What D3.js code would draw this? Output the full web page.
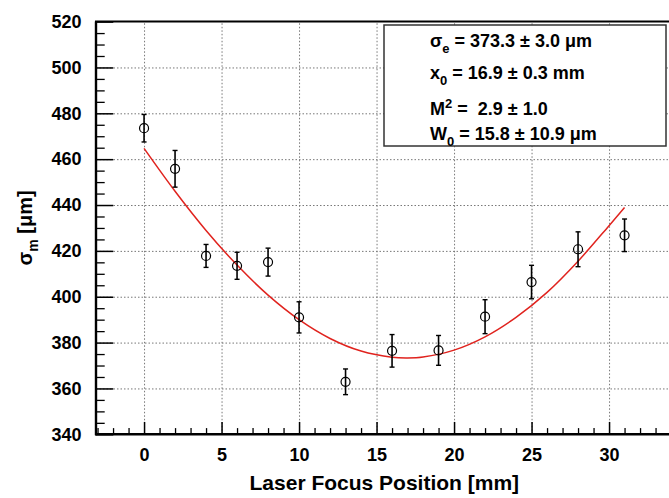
<!DOCTYPE html>
<html>
<head>
<meta charset="utf-8">
<script src="https://cdn.jsdelivr.net/npm/d3@7"></script>
<style>
  html, body { margin: 0; padding: 0; background: #fff; }
  svg { display: block; }
  text { font-family: "Liberation Sans", Arial, Helvetica, sans-serif; font-weight: bold; fill: #000; white-space: pre; }
</style>
</head>
<body>
<svg id="chart" width="669" height="498"></svg>
<script>
// ---- data ----
const focusPos = [0, 2, 4, 6, 8, 10, 13, 16, 19, 22, 25, 28, 31];
const sigmaM   = [473.5, 455.8, 417.8, 413.5, 415.1, 391.0, 362.9, 376.4, 376.6, 391.3, 406.4, 420.7, 426.8];
const sigmaErr = [6.0, 8.0, 5.0, 5.9, 6.1, 6.8, 5.6, 7.1, 6.5, 7.4, 7.3, 7.6, 7.1];

// fit curve
const fitX = [0, 2, 4, 6, 8, 10, 12, 14, 16, 17, 18, 20, 22, 24, 26, 28, 30, 31];
const fitY = [464.7, 446.0, 428.9, 413.8, 400.7, 390.0, 381.8, 376.3, 373.6, 373.3, 373.7, 376.7, 382.5, 391.0, 401.9, 415.5, 431.0, 438.9];

const xTicks = [0, 5, 10, 15, 20, 25, 30];
const yTicks = [340, 360, 380, 400, 420, 440, 460, 480, 500, 520];
const xDomain = [-3.1, 34.1];
const yDomain = [340, 520];

const legendLines = [
  { main: "σ", sub: "e", rest: " = 373.3 ± 3.0 μm" },
  { main: "x", sub: "0", rest: " = 16.9 ± 0.3 mm" },
  { main: "M", sup: "2", rest: " =  2.9 ± 1.0" },
  { main: "W", sub: "0", rest: " = 15.8 ± 10.9 μm" }
];

// ---- layout ----
const L = 96, R = 672.6, T = 21.6, B = 434.3;
const svg = d3.select("#chart");
const x = d3.scaleLinear().domain(xDomain).range([L, R]);
const y = d3.scaleLinear().domain(yDomain).range([B, T]);

const xMinor = d3.range(-3, 35, 1).filter(v => v % 5 !== 0);
const yMinor = d3.range(340, 521, 5).filter(v => v % 20 !== 0);

// grid
const gridX = svg.append("g").attr("transform", `translate(0,${B})`)
  .call(d3.axisBottom(x).tickValues(xTicks).tickSize(-(B - T)).tickFormat(""));
const gridY = svg.append("g").attr("transform", `translate(${L},0)`)
  .call(d3.axisLeft(y).tickValues(yTicks.slice(1, -1)).tickSize(-(R - L)).tickFormat(""));
[gridX, gridY].forEach(g => {
  g.select(".domain").remove();
  g.selectAll("line").attr("stroke", "#777").attr("stroke-width", 1).attr("stroke-dasharray", "1.5,2");
});

// minor ticks
const xm = svg.append("g").attr("transform", `translate(0,${B})`)
  .call(d3.axisBottom(x).tickValues(xMinor).tickSize(-6.2).tickFormat(""));
const ym = svg.append("g").attr("transform", `translate(${L},0)`)
  .call(d3.axisLeft(y).tickValues(yMinor).tickSize(-8.7).tickFormat(""));
[xm, ym].forEach(g => {
  g.select(".domain").remove();
  g.selectAll("line").attr("stroke", "#000").attr("stroke-width", 1.3);
});

// major axes
const xAxis = svg.append("g").attr("transform", `translate(0,${B})`)
  .call(d3.axisBottom(x).tickValues(xTicks).tickSizeInner(-12.4).tickSizeOuter(0).tickPadding(14));
const yAxis = svg.append("g").attr("transform", `translate(${L},0)`)
  .call(d3.axisLeft(y).tickValues(yTicks).tickSizeInner(-17.3).tickSizeOuter(0).tickPadding(14));
[xAxis, yAxis].forEach(g => {
  g.select(".domain").remove();
  g.selectAll("line").attr("stroke", "#000").attr("stroke-width", 1.5);
  g.selectAll("text").attr("font-size", 18).attr("font-weight", "bold")
    .attr("font-family", '"Liberation Sans", Arial, sans-serif').attr("fill", "#000");
});
xAxis.selectAll("text").attr("dy", "0.71em").attr("y", 14);
yAxis.selectAll("text").attr("x", -14.5);

// frame lines (left, bottom, top)
svg.append("line").attr("x1", L).attr("x2", L).attr("y1", T).attr("y2", B + 1)
  .attr("stroke", "#000").attr("stroke-width", 2.4);
svg.append("line").attr("x1", L - 1).attr("x2", R).attr("y1", B).attr("y2", B)
  .attr("stroke", "#000").attr("stroke-width", 2.4);
svg.append("line").attr("x1", L - 1).attr("x2", R).attr("y1", T).attr("y2", T)
  .attr("stroke", "#000").attr("stroke-width", 2);

// fit curve
const fitData = fitX.map((d, i) => [d, fitY[i]]);
svg.append("path").datum(fitData)
  .attr("fill", "none").attr("stroke", "#e0231e").attr("stroke-width", 1.5)
  .attr("d", d3.line().x(d => x(d[0])).y(d => y(d[1])).curve(d3.curveCatmullRom));

// data points with error bars
const pts = focusPos.map((d, i) => ({ x: d, y: sigmaM[i], e: sigmaErr[i] }));
const pg = svg.append("g");
pg.selectAll("line.eb").data(pts).join("line").attr("class", "eb")
  .attr("x1", d => x(d.x)).attr("x2", d => x(d.x))
  .attr("y1", d => y(d.y + d.e)).attr("y2", d => y(d.y - d.e))
  .attr("stroke", "#000").attr("stroke-width", 1.6);
pg.selectAll("line.cap1").data(pts).join("line").attr("class", "cap1")
  .attr("x1", d => x(d.x) - 2.5).attr("x2", d => x(d.x) + 2.5)
  .attr("y1", d => y(d.y + d.e)).attr("y2", d => y(d.y + d.e))
  .attr("stroke", "#000").attr("stroke-width", 1.4);
pg.selectAll("line.cap2").data(pts).join("line").attr("class", "cap2")
  .attr("x1", d => x(d.x) - 2.5).attr("x2", d => x(d.x) + 2.5)
  .attr("y1", d => y(d.y - d.e)).attr("y2", d => y(d.y - d.e))
  .attr("stroke", "#000").attr("stroke-width", 1.4);
pg.selectAll("circle").data(pts).join("circle")
  .attr("cx", d => x(d.x)).attr("cy", d => y(d.y)).attr("r", 4.5)
  .attr("fill", "none").attr("stroke", "#000").attr("stroke-width", 1.2);

// legend box
svg.append("rect").attr("x", 384).attr("y", 25).attr("width", 282).attr("height", 121)
  .attr("fill", "#fff").attr("stroke", "#333").attr("stroke-width", 1.5);
const baselines = [47, 78.5, 114.5, 139.5];
legendLines.forEach((ln, i) => {
  const t = svg.append("text").attr("x", 430).attr("y", baselines[i]).attr("font-size", 18);
  t.append("tspan").text(ln.main);
  if (ln.sub) {
    t.append("tspan").attr("font-size", 13).attr("dy", 6).text(ln.sub);
    t.append("tspan").attr("dy", -6).text(ln.rest);
  } else {
    t.append("tspan").attr("font-size", 13).attr("dy", -7).text(ln.sup);
    t.append("tspan").attr("dy", 7).text(ln.rest);
  }
});

// axis titles
svg.append("text").attr("x", (L + R) / 2).attr("y", 490).attr("text-anchor", "middle")
  .attr("font-size", 21).text("Laser Focus Position [mm]");
const yt = svg.append("text").attr("transform", `translate(32,${(T + B) / 2}) rotate(-90)`)
  .attr("text-anchor", "middle").attr("font-size", 20);
yt.append("tspan").text("σ");
yt.append("tspan").attr("font-size", 14).attr("dy", 6).text("m");
yt.append("tspan").attr("dy", -6).text(" [μm]");
</script>
</body>
</html>
